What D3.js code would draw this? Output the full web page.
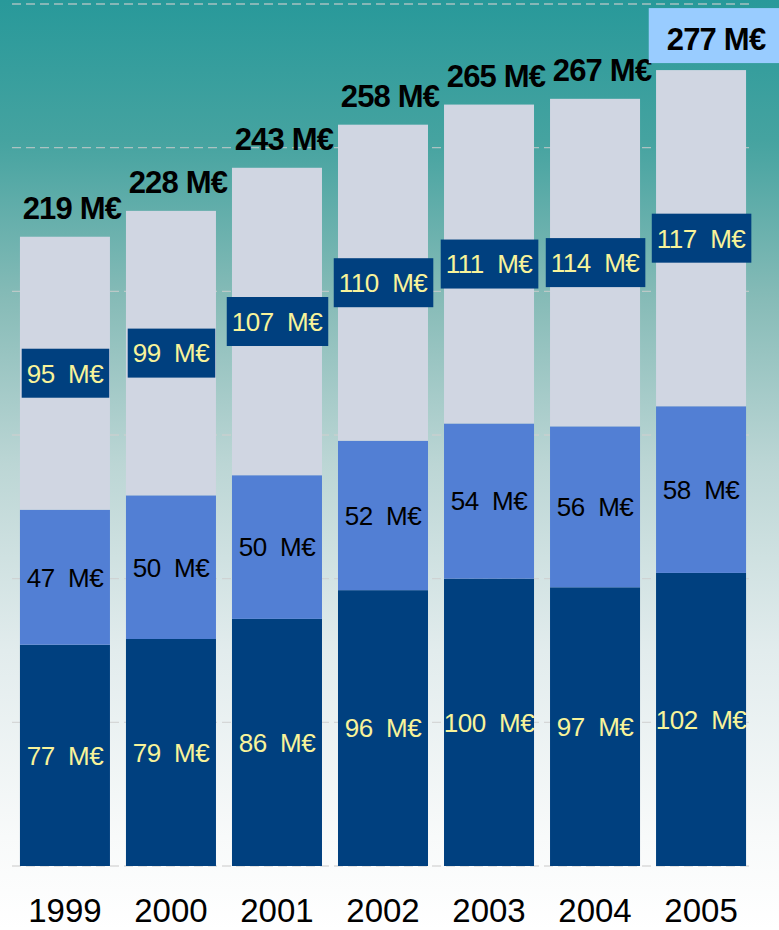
<!DOCTYPE html>
<html>
<head>
<meta charset="utf-8">
<script src="https://cdn.jsdelivr.net/npm/d3@7"></script>
<style>
  html, body { margin: 0; padding: 0; background: #fff; }
  svg text { font-family: "Liberation Sans", Arial, sans-serif; white-space: pre; }
</style>
</head>
<body>
<div class="chart"></div>
<script>
const years = ['1999', '2000', '2001', '2002', '2003', '2004', '2005'];
const bottomValues = [77, 79, 86, 96, 100, 97, 102];
const middleValues = [47, 50, 50, 52, 54, 56, 58];
const topValues = [95, 99, 107, 110, 111, 114, 117];
const totals = [219, 228, 243, 258, 265, 267, 277];
const gridTicks = [0, 50, 100, 150, 200, 250, 300];
const highlightYear = '2005';

const width = 779, height = 930;
const colors = { bottom: '#00407f', middle: '#527fd4', top: '#d0d6e2' };
const yellow = '#f8f39a';

const rows = years.map((y, i) => ({
  year: y,
  bottom: bottomValues[i],
  middle: middleValues[i],
  top: topValues[i],
  total: totals[i],
}));

const svg = d3.select('.chart')
  .append('svg')
    .attr('width', width)
    .attr('height', height);

// background gradient teal -> white
const grad = svg.append('defs').append('linearGradient')
  .attr('id', 'bg')
  .attr('x1', 0).attr('y1', 0).attr('x2', 0).attr('y2', 1);
[[0, '#28999a'], [0.15, '#45a3a0'], [0.32, '#86bbb7'], [0.5, '#bcd6d5'],
 [0.7, '#e2eced'], [0.9, '#f8fafa'], [1, '#ffffff']]
  .forEach(([o, c]) => grad.append('stop').attr('offset', o).attr('stop-color', c));

svg.append('rect')
  .attr('width', width)
  .attr('height', height)
  .attr('fill', 'url(#bg)');

const x = d3.scaleBand().domain(years).range([12, 754]).paddingInner(0.151).paddingOuter(0.075);
const y = d3.scaleLinear().domain([0, 300]).range([866, 4]);

// dashed gridlines
svg.append('g')
  .selectAll('line')
  .data(gridTicks)
  .enter().append('line')
    .attr('x1', 12)
    .attr('x2', 754)
    .attr('y1', d => y(d))
    .attr('y2', d => y(d))
    .attr('stroke', 'rgba(205,205,205,0.75)')
    .attr('stroke-width', 1.3)
    .attr('stroke-dasharray', '9,5');

const keys = ['bottom', 'middle', 'top'];
const series = d3.stack().keys(keys)(rows);

const layers = svg.append('g')
  .selectAll('g')
  .data(series)
  .enter().append('g')
    .attr('fill', d => colors[d.key]);

layers.selectAll('rect')
  .data(d => d)
  .enter().append('rect')
    .attr('x', d => x(d.data.year))
    .attr('width', x.bandwidth())
    .attr('y', d => y(d[1]))
    .attr('height', d => y(d[0]) - y(d[1]));

// segment labels
const fs = 26;
series.forEach(s => {
  s.forEach(d => {
    const cx = x(d.data.year) + x.bandwidth() / 2;
    const cy = (y(d[0]) + y(d[1])) / 2;
    const t = svg.append('text')
      .attr('x', cx)
      .attr('y', cy + fs * 0.36)
      .attr('text-anchor', 'middle')
      .attr('font-size', fs)
      .attr('letter-spacing', -0.5)
      .attr('fill', s.key === 'middle' ? '#000' : yellow)
      .text(`${d.data[s.key]}  M€`);
    if (s.key === 'top') {
      const bb = t.node().getBBox();
      svg.insert('rect', () => t.node())
        .attr('x', bb.x - 5)
        .attr('width', bb.width + 10)
        .attr('y', cy - 24.5)
        .attr('height', 49)
        .attr('fill', colors.bottom);
    }
  });
});

// totals
rows.forEach(d => {
  const hl = d.year === highlightYear;
  const t = svg.append('text')
    .attr('x', x(d.year) + x.bandwidth() / 2 + (hl ? 15 : 7))
    .attr('y', y(d.total) - (hl ? 20 : 18))
    .attr('text-anchor', 'middle')
    .attr('font-size', 31)
    .attr('font-weight', 'bold')
    .attr('letter-spacing', -0.8)
    .attr('fill', '#000')
    .text(`${d.total} M€`);
  if (hl) {
    const bb = t.node().getBBox();
    svg.insert('rect', () => t.node())
      .attr('x', bb.x - 18)
      .attr('width', width - bb.x + 18)
      .attr('y', y(d.total) - 62)
      .attr('height', 55)
      .attr('fill', '#99ccff');
  }
});

// year labels
svg.append('g')
  .selectAll('text')
  .data(years)
  .enter().append('text')
    .attr('x', d => x(d) + x.bandwidth() / 2)
    .attr('y', 922)
    .attr('text-anchor', 'middle')
    .attr('font-size', 33)
    .attr('fill', '#000')
    .text(d => d);
</script>
</body>
</html>
